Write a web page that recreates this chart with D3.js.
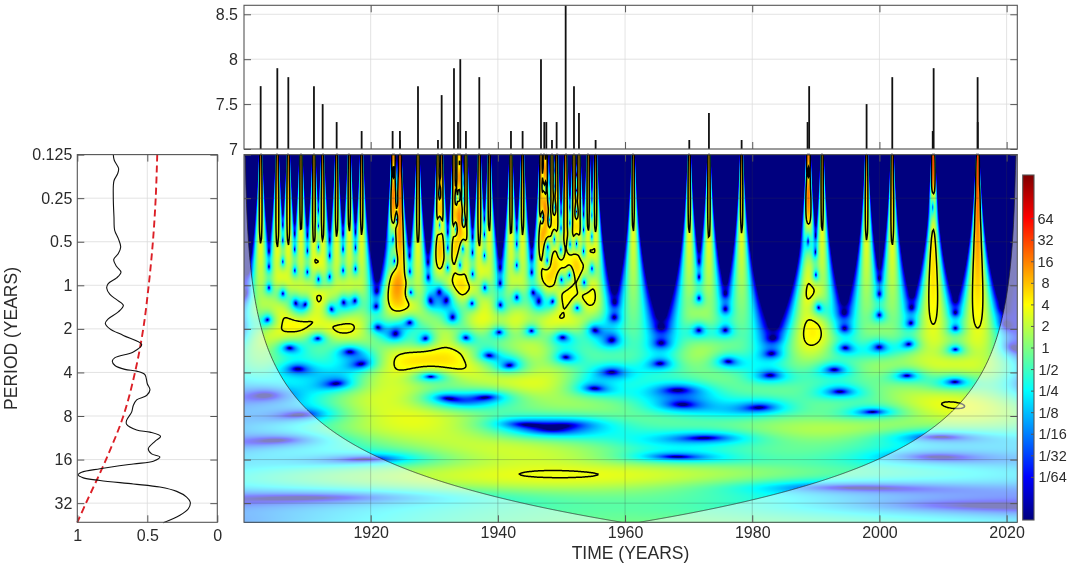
<!DOCTYPE html>
<html>
<head>
<meta charset="utf-8">
<script src="https://cdn.jsdelivr.net/npm/d3@7"></script>
<style>
	html, body { margin: 0; padding: 0; background: #fff; }
	#chart { position: relative; width: 1072px; height: 564px; overflow: hidden; }
	canvas, svg { position: absolute; left: 0; top: 0; }
	text { font-family: "Liberation Sans", Arial, sans-serif; fill: #2b2b2b; }
</style>
</head>
<body>
<div id="chart"></div>
<script>
// events read off the top panel and the cones of the scalogram (7.0 has no visible bar)
var eventYears = [1902.7, 1905.32, 1907.05, 1909.04, 1911.08, 1912.45, 1914.65, 1916.64, 1918.58,
	1923.45, 1923.7, 1924.6, 1924.62, 1927.44, 1930.58, 1931.16, 1933.1, 1933.73, 1934.09, 1934.98, 1937.08, 1938.65,
	1942.06, 1943.89, 1946.78, 1947.3, 1947.62, 1948.51, 1949.24, 1950.66, 1951.97, 1952.75, 1954.21, 1955.37,
	1961.29, 1970.1, 1973.19, 1978.33, 1988.7, 1988.95, 1991.0, 1997.98, 2002.02, 2008.38, 2008.525, 2015.44, 2015.46];
var eventMagnitudes = [7.7, 7.9, 7.8, 7.0, 7.7, 7.5, 7.3, 7.0, 7.2,
	7.2, 7.0, 7.2, 7.1, 7.7, 7.1, 7.6, 7.9, 7.3, 8.0, 7.2, 7.8, 7.0,
	7.2, 7.2, 8.0, 7.3, 7.3, 7.1, 7.3, 8.6, 7.7, 7.4, 7.0, 7.1,
	7.0, 7.1, 7.4, 7.1, 7.3, 7.7, 7.0, 7.5, 7.8, 7.2, 7.9, 7.8, 7.3];

// global spectrum (left panel), log2 of the period against normalised power
var globalLogPeriod = [-3, -2.87, -2.68, -2.56, -2.4, -2.03, -1.57, -1.26, -1.07, -0.88, -0.73, -0.59, -0.43, -0.3, -0.17, -0.04,
	0.06, 0.21, 0.33, 0.46, 0.61, 0.77, 0.87, 1, 1.15, 1.36, 1.53, 1.66, 1.74, 1.84, 1.93, 1.97, 2.05, 2.26, 2.4, 2.53, 2.63, 2.76, 2.91,
	3.1, 3.19, 3.32, 3.37, 3.47, 3.58, 3.75, 3.87, 3.94, 4.04, 4.1, 4.21, 4.29, 4.35, 4.42, 4.48, 4.56, 4.63, 4.73, 4.86, 4.98, 5.13, 5.28, 5.45];
var globalPower = [.743, .736, .705, .712, .738, .743, .738, .733, .707, .69, .707, .74, .719, .688, .719, .779,
	.79, .767, .719, .671, .707, .779, .8, .767, .671, .54, .6, .731, .75, .731, .66, .576, .517, .5, .481, .505, .576, .6, .612,
	.648, .648, .576, .481, .405, .445, .493, .469, .41, .457, .6, .838, .969, .995, .957, .838, .6, .41, .29, .219, .193, .207, .267, .386];
var signifLogPeriod = [-3, -2, -1, 0, 1, 2, 3, 4, 5, 5.44];
var signifPower = [.429, .44, .46, .49, .529, .588, .671, .795, .938, 1];

var yearTicks = [1920, 1940, 1960, 1980, 2000, 2020];
var magnitudeTicks = [7, 7.5, 8, 8.5];
var periodTicks = [0.125, 0.25, 0.5, 1, 2, 4, 8, 16, 32];
var powerTicks = [1, 0.5, 0];
var colorTicks = [64, 32, 16, 8, 4, 2, 1, 1/2, 1/4, 1/8, 1/16, 1/32, 1/64];
var colorLabels = ['64', '32', '16', '8', '4', '2', '1', '1/2', '1/4', '1/8', '1/16', '1/32', '1/64'];

var startYear = 1900.1, endYear = 2021.6;
var omega0 = 6;
var significance = 3.15;

var box = { left: 244, right: 1017.3, top: 5.3, topBottom: 149, heatTop: 154.6, heatBottom: 522.3 };
var side = { left: 77.3, right: 217.3 };
var bar = { left: 1022.7, right: 1034, top: 175, bottom: 520 };

var x = d3.scaleLinear().domain([1900.08, 2021.68]).range([box.left, box.right]);
var yMag = d3.scaleLinear().domain([7, 8.6]).range([box.topBottom, box.top]);
var yPeriod = d3.scaleLog().base(2).domain([0.125, 43.4]).range([box.heatTop, box.heatBottom]);
var xPower = d3.scaleLinear().domain([1, 0]).range([side.left, side.right]);
var yColor = d3.scaleLog().base(2).domain([1/256, 256]).range([bar.bottom, bar.top]);

var jet = d3.scaleLinear()
	.domain([-8, -6, -2, 2, 6, 8])
	.range(['#00007f', '#0000ff', '#00ffff', '#ffff00', '#ff0000', '#7f0000'])
	.clamp(true);
var jetTable = d3.range(513).map(function(i) { return d3.rgb(jet(-8 + i / 32)); });

// Morlet transform of the event train, mean removed
var fourierFactor = 4 * Math.PI / (omega0 + Math.sqrt(2 + omega0 * omega0));
var span = endYear - startYear;
var norm = span / d3.sum(eventMagnitudes, function(m) { return m * m; });
var meanRate = d3.sum(eventMagnitudes) / span;
var pi14 = Math.pow(Math.PI, -0.25);

function wavePower(year, period) {
	var s = period / fourierFactor, re = 0, im = 0;
	for (var k = 0; k < eventYears.length; k++) {
		var eta = (eventYears[k] - year) / s;
		if (Math.abs(eta) > 7) continue;
		var amp = eventMagnitudes[k] * Math.exp(-eta * eta / 2);
		re += amp * Math.cos(omega0 * eta);
		im += amp * Math.sin(omega0 * eta);
	}
	// the removed mean only shows at the ends of the record
	[[startYear, 1], [endYear, -1]].forEach(function(edge) {
		var a = (edge[0] - year) / s;
		if (Math.abs(a) > 7) return;
		var e = Math.exp(-a * a / 2), cr = e * Math.cos(omega0 * a), ci = e * Math.sin(omega0 * a);
		var d = a * a + omega0 * omega0;
		// e^(g) / (i w - a)
		var qr = (-a * cr + omega0 * ci) / d, qi = (-a * ci - omega0 * cr) / d;
		re += edge[1] * meanRate * s * qr;
		im += edge[1] * meanRate * s * qi;
	});
	return (re * re + im * im) * pi14 * pi14 * norm / s;
}

var nx = Math.round(box.right - box.left), ny = Math.round(box.heatBottom - box.heatTop);
var field = new Float64Array(nx * ny);
var years = d3.range(nx).map(function(i) { return x.invert(box.left + i + 0.5); });
var periods = d3.range(ny).map(function(j) { return yPeriod.invert(box.heatTop + j + 0.5); });
periods.forEach(function(p, j) {
	years.forEach(function(t, i) { field[j * nx + i] = wavePower(t, p); });
});

var $chart = d3.select('#chart');

var canvas = $chart.append('canvas')
	.attr('width', nx).attr('height', ny)
	.style('left', box.left + 'px').style('top', box.heatTop + 'px')
	.style('filter', 'blur(0.5px)');
var ctx = canvas.node().getContext('2d');
var img = ctx.createImageData(nx, ny);
for (var c = 0; c < field.length; c++) {
	var idx = Math.max(0, Math.min(512, Math.round((Math.log2(field[c] + 1e-12) + 8) * 32)));
	var col = jetTable[idx];
	img.data[c * 4] = col.r; img.data[c * 4 + 1] = col.g; img.data[c * 4 + 2] = col.b; img.data[c * 4 + 3] = 255;
}
ctx.putImageData(img, 0, 0);

var barCanvas = $chart.append('canvas')
	.attr('width', 1).attr('height', Math.round(bar.bottom - bar.top))
	.style('left', bar.left + 'px').style('top', bar.top + 'px')
	.style('width', (bar.right - bar.left) + 'px').style('height', (bar.bottom - bar.top) + 'px');
var barCtx = barCanvas.node().getContext('2d');
d3.range(Math.round(bar.bottom - bar.top)).forEach(function(j) {
	barCtx.fillStyle = jet(Math.log2(yColor.invert(bar.top + j + 0.5)));
	barCtx.fillRect(0, j, 1, 1);
});

var svg = $chart.append('svg').attr('width', 1072).attr('height', 564);

function gridLines(sel, xs, ys, sx, sy, x0, x1, y0, y1, color) {
	sel.selectAll(null).data(xs).enter().append('line')
		.attr('x1', sx).attr('x2', sx).attr('y1', y0).attr('y2', y1)
		.attr('stroke', color).attr('stroke-width', 0.8);
	sel.selectAll(null).data(ys).enter().append('line')
		.attr('y1', sy).attr('y2', sy).attr('x1', x0).attr('x2', x1)
		.attr('stroke', color).attr('stroke-width', 0.8);
}

function frame(g, x0, x1, y0, y1) {
	g.append('rect')
		.attr('x', x0).attr('y', y0).attr('width', x1 - x0).attr('height', y1 - y0)
		.attr('fill', 'none').attr('stroke', '#555').attr('stroke-width', 1.1);
}

function axisStyle(g) {
	g.select('.domain').remove();
	g.selectAll('.tick line').attr('stroke', '#555').attr('stroke-width', 1);
	g.selectAll('.tick text').attr('fill', '#2b2b2b').style('font-size', '16px')
		.style('font-family', '"Liberation Sans", Arial, sans-serif');
}

function inwardTicks(g, xs, ys, sx, sy, x0, x1, y0, y1) {
	g.append('g').attr('transform', 'translate(0,' + y0 + ')')
		.call(d3.axisTop(sx).tickValues(xs).tickSize(-7).tickFormat('')).call(axisStyle);
	g.append('g').attr('transform', 'translate(0,' + y1 + ')')
		.call(d3.axisBottom(sx).tickValues(xs).tickSize(-7).tickFormat('')).call(axisStyle);
	g.append('g').attr('transform', 'translate(' + x0 + ',0)')
		.call(d3.axisLeft(sy).tickValues(ys).tickSize(-7).tickFormat('')).call(axisStyle);
	g.append('g').attr('transform', 'translate(' + x1 + ',0)')
		.call(d3.axisRight(sy).tickValues(ys).tickSize(-7).tickFormat('')).call(axisStyle);
}

// top panel
var topPanel = svg.append('g');
gridLines(topPanel, yearTicks, magnitudeTicks, x, yMag, box.left, box.right, box.top, box.topBottom, '#dcdcdc');
topPanel.selectAll('line.event').data(eventYears).enter().append('line')
	.attr('class', 'event')
	.attr('x1', x).attr('x2', x)
	.attr('y1', yMag(7))
	.attr('y2', function(d, i) { return yMag(eventMagnitudes[i]); })
	.attr('stroke', '#111').attr('stroke-width', 1.8);
inwardTicks(topPanel, yearTicks, magnitudeTicks, x, yMag, box.left, box.right, box.top, box.topBottom);
frame(topPanel, box.left, box.right, box.top, box.topBottom);
topPanel.append('g').attr('transform', 'translate(' + box.left + ',0)')
	.call(d3.axisLeft(yMag).tickValues(magnitudeTicks).tickSize(0).tickPadding(6).tickFormat(d3.format('~g')))
	.call(axisStyle);

// contours of the significant power, under the cone overlay
var heatPanel = svg.append('g');
var contours = d3.contours().size([nx, ny]).thresholds([significance])(field);
heatPanel.append('g').attr('transform', 'translate(' + box.left + ',' + box.heatTop + ')')
	.selectAll('path').data(contours).enter().append('path')
	.attr('d', d3.geoPath())
	.attr('fill', 'none').attr('stroke', '#000').attr('stroke-width', 1.5);

// cone of influence
function coiPeriod(t) {
	var edge = Math.min(t - startYear, endYear - t);
	return Math.max(edge, 0.001) * fourierFactor / Math.SQRT2;
}
var coiYears = d3.range(x.domain()[0], x.domain()[1], 0.1).concat([x.domain()[1]]);
var coiY = function(t) { return Math.max(box.heatTop, Math.min(box.heatBottom, yPeriod(coiPeriod(t)))); };
heatPanel.append('path').datum(coiYears)
	.attr('d', d3.area().x(x).y0(box.heatBottom).y1(coiY))
	.attr('fill', '#fff').attr('fill-opacity', 0.5);
heatPanel.append('path').datum(coiYears)
	.attr('d', d3.line().x(x).y(coiY))
	.attr('fill', 'none').attr('stroke', '#222').attr('stroke-width', 0.7);

gridLines(heatPanel, yearTicks, periodTicks, x, yPeriod, box.left, box.right, box.heatTop, box.heatBottom, 'rgba(60,60,60,0.3)');
inwardTicks(heatPanel, yearTicks, periodTicks, x, yPeriod, box.left, box.right, box.heatTop, box.heatBottom);
frame(heatPanel, box.left, box.right, box.heatTop, box.heatBottom);
heatPanel.append('g').attr('transform', 'translate(0,' + box.heatBottom + ')')
	.call(d3.axisBottom(x).tickValues(yearTicks).tickSize(0).tickPadding(4).tickFormat(d3.format('d')))
	.call(axisStyle);
svg.append('text').attr('x', 630.5).attr('y', 559).attr('text-anchor', 'middle')
	.style('font-size', '17.5px').text('TIME (YEARS)');

// left panel
var sidePanel = svg.append('g');
gridLines(sidePanel, [0.5], periodTicks, xPower, yPeriod, side.left, side.right, box.heatTop, box.heatBottom, '#dcdcdc');
sidePanel.append('path').datum(signifLogPeriod)
	.attr('d', d3.line()
		.x(function(d, i) { return xPower(signifPower[i]); })
		.y(function(d) { return yPeriod(Math.pow(2, d)); })
		.curve(d3.curveCatmullRom))
	.attr('fill', 'none').attr('stroke', '#dc1f26').attr('stroke-width', 1.9).attr('stroke-dasharray', '7 4');
sidePanel.append('path').datum(globalLogPeriod)
	.attr('d', d3.line()
		.x(function(d, i) { return xPower(globalPower[i]); })
		.y(function(d) { return yPeriod(Math.pow(2, d)); })
		.curve(d3.curveCatmullRom))
	.attr('fill', 'none').attr('stroke', '#111').attr('stroke-width', 1.1);
inwardTicks(sidePanel, powerTicks, periodTicks, xPower, yPeriod, side.left, side.right, box.heatTop, box.heatBottom);
frame(sidePanel, side.left, side.right, box.heatTop, box.heatBottom);
sidePanel.append('g').attr('transform', 'translate(' + side.left + ',0)')
	.call(d3.axisLeft(yPeriod).tickValues(periodTicks).tickSize(0).tickPadding(5).tickFormat(d3.format('~g')))
	.call(axisStyle);
sidePanel.append('g').attr('transform', 'translate(0,' + box.heatBottom + ')')
	.call(d3.axisBottom(xPower).tickValues(powerTicks).tickSize(0).tickPadding(7).tickFormat(d3.format('~g')))
	.call(axisStyle);
svg.append('text').attr('transform', 'translate(17,338.5) rotate(-90)').attr('text-anchor', 'middle')
	.style('font-size', '17.5px').text('PERIOD (YEARS)');

// colour bar
var barPanel = svg.append('g');
barPanel.append('g').attr('transform', 'translate(' + bar.right + ',0)')
	.call(d3.axisLeft(yColor).tickValues(colorTicks).tickSize(3).tickFormat('')).call(axisStyle);
frame(barPanel, bar.left, bar.right, bar.top, bar.bottom);
barPanel.selectAll('text.lab').data(colorTicks).enter().append('text')
	.attr('class', 'lab')
	.attr('x', function(d) { return d >= 1 ? 1045.5 : 1038.5; })
	.attr('y', function(d) { return yColor(d) + 5.5; })
	.attr('text-anchor', function(d) { return d >= 1 ? 'middle' : 'start'; })
	.style('font-size', '14.5px')
	.text(function(d, i) { return colorLabels[i]; });
</script>
</body>
</html>
